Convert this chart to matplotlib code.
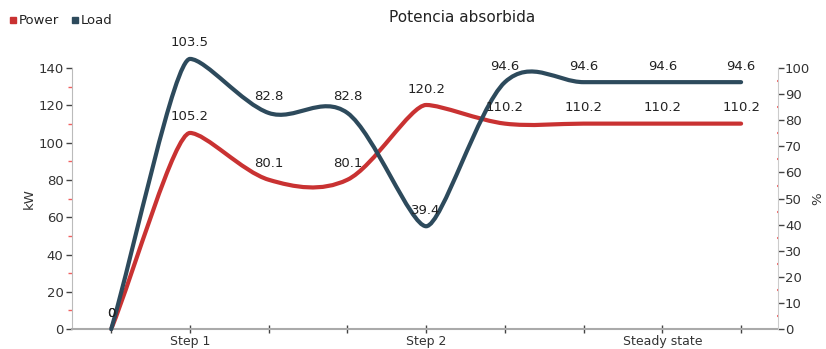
import matplotlib
matplotlib.use("Agg")
import matplotlib.pyplot as plt
from matplotlib.path import Path
from matplotlib.patches import PathPatch
from matplotlib.lines import Line2D
from matplotlib.ticker import MultipleLocator

# data
steps = [0, 1, 2, 3, 4, 5, 6, 7, 8]
step_labels = ["", "Step 1", "", "", "Step 2", "", "", "Steady state", ""]
power_kw = [0, 105.2, 80.1, 80.1, 120.2, 110.2, 110.2, 110.2, 110.2]
load_pct = [0, 103.5, 82.8, 82.8, 39.4, 94.6, 94.6, 94.6, 94.6]

power_color = "#c93232"
load_color = "#2d4a5c"
text_color = "#333333"


def smooth_path(xs, ys):
    # cubic bezier through the points, flat short tangent at local peaks/troughs
    n = len(xs)
    slopes = []
    arms = []
    for i in range(n):
        if i == 0:
            slopes.append((ys[1] - ys[0]) / (xs[1] - xs[0]))
            arms.append(0.3)
        elif i == n - 1:
            slopes.append((ys[-1] - ys[-2]) / (xs[-1] - xs[-2]))
            arms.append(0.3)
        else:
            a, b, c = ys[i - 1], ys[i], ys[i + 1]
            if (b > a and b > c) or (b < a and b < c):
                slopes.append(0.0)
                arms.append(0.2)
            else:
                slopes.append((c - a) / (xs[i + 1] - xs[i - 1]))
                arms.append(1 / 3.0)
    verts = [(xs[0], ys[0])]
    codes = [Path.MOVETO]
    for i in range(n - 1):
        dx = xs[i + 1] - xs[i]
        d0 = dx * arms[i]
        d1 = dx * arms[i + 1]
        verts.append((xs[i] + d0, ys[i] + slopes[i] * d0))
        verts.append((xs[i + 1] - d1, ys[i + 1] - slopes[i + 1] * d1))
        verts.append((xs[i + 1], ys[i + 1]))
        codes += [Path.CURVE4] * 3
    return Path(verts, codes)


fig, ax = plt.subplots(figsize=(8.26, 3.49), dpi=100)
fig.subplots_adjust(left=0.087, right=0.942, bottom=0.057, top=0.805)
ax2 = ax.twinx()

ax.set_xlim(-0.5, 8.47)
ax.set_ylim(0, 140)
ax2.set_ylim(0, 100)

ax.add_patch(PathPatch(smooth_path(steps, power_kw), fill=False, edgecolor=power_color,
                       lw=3, capstyle="round", joinstyle="round", clip_on=False))
ax2.add_patch(PathPatch(smooth_path(steps, load_pct), fill=False, edgecolor=load_color,
                        lw=3, capstyle="round", joinstyle="round", clip_on=False))

for x, v in zip(steps, power_kw):
    ax2.annotate("%g" % v, xy=(x, v), xycoords=ax.transData, xytext=(0, 11.5),
                 textcoords="offset points", ha="center", va="center",
                 fontsize=9.5, color="#222222", annotation_clip=False)
for x, v in zip(steps, load_pct):
    ax2.annotate("%g" % v, xy=(x, v), xytext=(0, 11.5), textcoords="offset points",
                 ha="center", va="center", fontsize=9.5, color="#222222",
                 annotation_clip=False)

# axes styling
ax.spines["top"].set_visible(False)
ax2.spines["top"].set_visible(False)
ax.spines["right"].set_visible(False)
ax2.spines["left"].set_visible(False)
ax.spines["left"].set_color("#bbbbbb")
ax2.spines["right"].set_color("#cccccc")
ax2.spines["bottom"].set_visible(False)
ax.spines["bottom"].set_color("#aaaaaa")
ax.spines["bottom"].set_linewidth(1.5)

ax.set_xticks(steps)
ax.set_xticklabels(step_labels)
ax.tick_params(axis="x", direction="inout", length=6, width=1, color="#444444",
               labelsize=9, labelcolor=text_color, pad=1)

ax.yaxis.set_major_locator(MultipleLocator(20))
ax.yaxis.set_minor_locator(MultipleLocator(10))
ax.tick_params(axis="y", which="major", direction="out", length=4, width=1,
               color="#444444", labelsize=9.5, labelcolor=text_color, pad=2)
ax.tick_params(axis="y", which="minor", direction="out", length=3, width=1,
               color="#f06060")

ax2.yaxis.set_major_locator(MultipleLocator(10))
ax2.yaxis.set_minor_locator(MultipleLocator(5))
ax2.tick_params(axis="y", which="major", direction="out", length=4, width=1,
                color="#444444", labelsize=9.5, labelcolor=text_color, pad=1)
ax2.tick_params(axis="y", which="minor", direction="inout", length=1.5, width=1.5,
                color="#f07070")

ax.set_ylabel("kW", fontsize=9.5, color=text_color, labelpad=2)
ax2.set_ylabel("%", fontsize=9.5, color=text_color, labelpad=1, rotation=90)

fig.suptitle("Potencia absorbida", fontsize=11, color="#222222", y=0.97, x=0.56)

handles = [Line2D([], [], ls="none", marker="s", ms=5, color=power_color),
           Line2D([], [], ls="none", marker="s", ms=5, color=load_color)]
fig.legend(handles, ["Power", "Load"], loc="upper left", bbox_to_anchor=(0.0, 0.985),
           ncol=2, frameon=False, fontsize=9.5, handlelength=0.6, handletextpad=0.15,
           columnspacing=0.9, borderaxespad=0.3, labelcolor="#222222")

fig.savefig("out.png", dpi=100)
